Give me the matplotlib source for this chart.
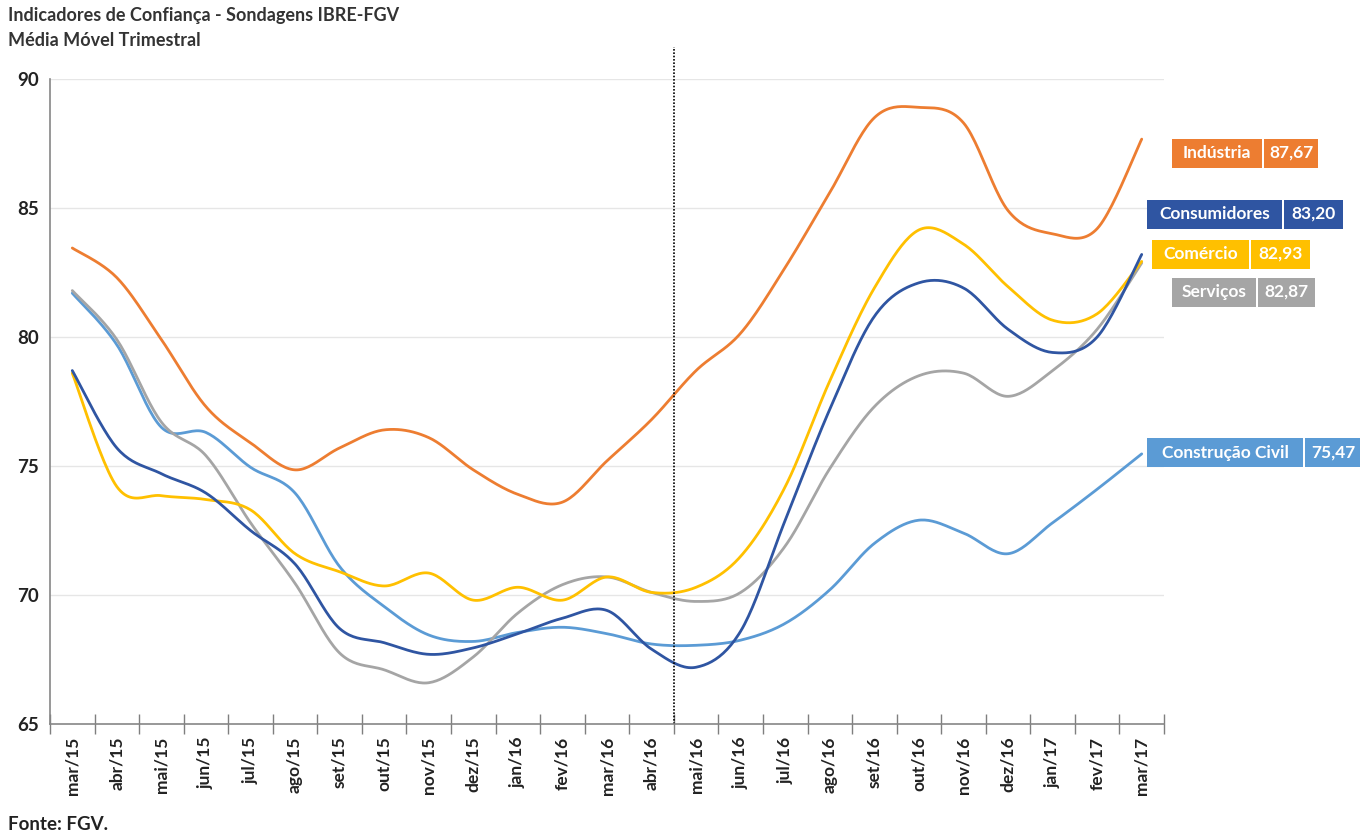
import numpy as np
import matplotlib
matplotlib.use("Agg")
import matplotlib.pyplot as plt
from matplotlib.patches import Rectangle

plt.rcParams['font.family'] = ['Lato', 'DejaVu Sans']

meses = ["mar/15", "abr/15", "mai/15", "jun/15", "jul/15", "ago/15", "set/15",
         "out/15", "nov/15", "dez/15", "jan/16", "fev/16", "mar/16", "abr/16",
         "mai/16", "jun/16", "jul/16", "ago/16", "set/16", "out/16", "nov/16",
         "dez/16", "jan/17", "fev/17", "mar/17"]

industria = [83.45, 82.3, 79.9, 77.3, 75.9, 74.85, 75.7, 76.4, 76.1, 74.85, 73.9,
             73.6, 75.2, 76.8, 78.7, 80.15, 82.7, 85.6, 88.5, 88.9, 88.3, 84.9,
             84.0, 84.2, 87.67]
consumidores = [78.7, 75.7, 74.7, 73.95, 72.5, 71.2, 68.7, 68.15, 67.7, 67.95,
                68.5, 69.1, 69.4, 67.9, 67.2, 68.6, 72.9, 77.2, 80.8, 82.1, 81.9,
                80.3, 79.4, 80.0, 83.20]
comercio = [78.6, 74.2, 73.85, 73.7, 73.3, 71.6, 70.9, 70.35, 70.85, 69.8, 70.3,
            69.8, 70.7, 70.1, 70.3, 71.5, 74.2, 78.3, 81.9, 84.15, 83.6, 81.95,
            80.65, 80.9, 82.93]
servicos = [81.8, 79.9, 76.7, 75.4, 72.8, 70.45, 67.75, 67.1, 66.6, 67.6, 69.3,
            70.4, 70.7, 70.1, 69.75, 70.1, 71.9, 74.9, 77.3, 78.5, 78.6, 77.7,
            78.7, 80.3, 82.87]
construcao = [81.7, 79.7, 76.5, 76.3, 74.95, 73.95, 71.1, 69.55, 68.45, 68.2,
              68.55, 68.75, 68.5, 68.1, 68.05, 68.25, 68.9, 70.2, 72.0, 72.9,
              72.4, 71.6, 72.8, 74.1, 75.47]

series = [
    ("Construção Civil", construcao, "#5B9BD5"),
    ("Serviços", servicos, "#A5A5A5"),
    ("Comércio", comercio, "#FFC000"),
    ("Consumidores", consumidores, "#2F55A2"),
    ("Indústria", industria, "#ED7D31"),
]


def smooth(y, n=24):
    # bezier smoothing like excel (catmull-rom)
    y = np.asarray(y, float)
    x = np.arange(len(y), dtype=float)
    px = np.concatenate(([x[0]], x, [x[-1]]))
    py = np.concatenate(([y[0]], y, [y[-1]]))
    t = np.linspace(0, 1, n)[:, None]
    xs, ys = [], []
    for i in range(1, len(px) - 2):
        for arr, out in ((px, xs), (py, ys)):
            p0, p1, p2, p3 = arr[i - 1], arr[i], arr[i + 1], arr[i + 2]
            c1 = p1 + (p2 - p0) / 6
            c2 = p2 - (p3 - p1) / 6
            b = ((1 - t) ** 3 * p1 + 3 * (1 - t) ** 2 * t * c1
                 + 3 * (1 - t) * t ** 2 * c2 + t ** 3 * p2)
            out.append(b.ravel())
    return np.concatenate(xs), np.concatenate(ys)


W, H = 1360, 834
fig = plt.figure(figsize=(W / 100, H / 100), dpi=100)
ax = fig.add_axes([50 / W, 1 - 724 / H, 1114 / W, 645 / H])

for nome, vals, cor in series:
    sx, sy = smooth(vals)
    ax.plot(sx, sy, color=cor, lw=2.0, solid_capstyle='round')

ax.set_xlim(-0.5, len(meses) - 0.5)
ax.set_ylim(65, 90)
ax.set_yticks([65, 70, 75, 80, 85, 90])
for g in [70, 75, 80, 85, 90]:
    ax.axhline(g, color="#E6E6E6", lw=1, zorder=0)

ax.axvline(13.5, ymin=0, ymax=(91.25 - 65) / 25, color="black", ls=(0, (1, 1)),
           lw=1.2, clip_on=False)

ax.set_xticks(range(len(meses)))
ax.set_xticklabels(meses, rotation=90, fontsize=12.5, fontweight='bold',
                   color="#222222")
ax.set_xticks(np.arange(-0.5, len(meses)), minor=True)
ax.tick_params(axis='x', which='major', length=0, pad=9)
ax.tick_params(axis='x', which='minor', length=14, direction='inout',
               color="#7F7F7F", width=1)
ax.tick_params(axis='y', length=0, pad=8, labelsize=13.5, labelcolor="#222222")
for lbl in ax.get_yticklabels():
    lbl.set_fontweight('bold')

for s in ["top", "right"]:
    ax.spines[s].set_visible(False)
for s in ["left", "bottom"]:
    ax.spines[s].set_color("#868686")
    ax.spines[s].set_linewidth(1.2)

fig.text(8 / W, 1 - 16 / H, "Indicadores de Confiança - Sondagens IBRE-FGV",
         fontsize=13, fontweight='bold', color="#333333", va='center')
fig.text(8 / W, 1 - 41 / H, "Média Móvel Trimestral",
         fontsize=13, fontweight='bold', color="#333333", va='center')
fig.text(8 / W, 1 - 824 / H, "Fonte: FGV.", fontsize=13.5, fontweight='bold',
         color="#222222", va='center')

# caixas de rotulos: (x0, separador, x1, y centro) em pixels
caixas = {
    "Indústria": (1172, 1262, 1318, 153),
    "Consumidores": (1147, 1282, 1343, 214),
    "Comércio": (1152, 1249, 1310, 254),
    "Serviços": (1172, 1256, 1315, 292),
    "Construção Civil": (1147, 1303, 1362, 453),
}
bh = 29
for nome, vals, cor in series:
    x0, xs_, x1, yc = caixas[nome]
    valor = f"{vals[-1]:.2f}".replace(".", ",")
    for a, b, txt in ((x0, xs_, nome), (xs_ + 2, x1, valor)):
        fig.patches.append(Rectangle((a / W, 1 - (yc + bh / 2) / H),
                                     (b - a) / W, bh / H, transform=fig.transFigure,
                                     facecolor=cor, edgecolor='none'))
        fig.text((a + b) / 2 / W, 1 - yc / H, txt, color="white", fontsize=12.5,
                 fontweight='bold', ha='center', va='center')

fig.savefig("out.png", dpi=100)
